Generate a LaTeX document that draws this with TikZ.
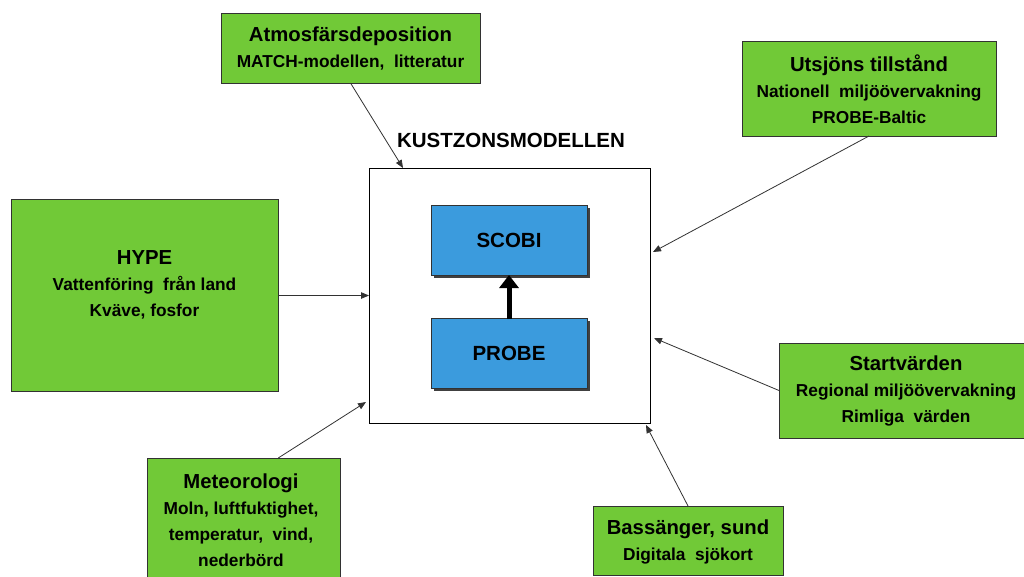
\documentclass[tikz,border=0pt]{standalone}
\usepackage{fontspec}
\setmainfont{Liberation Sans}
\usetikzlibrary{arrows.meta,calc,shadows}
\definecolor{gr}{RGB}{113,201,55}
\definecolor{bl}{RGB}{59,155,221}
\definecolor{ln}{RGB}{50,50,50}
\tikzset{
  gbox/.style={draw=ln, line width=0.9pt, fill=gr, inner sep=0pt, outer sep=0pt},
  bbox/.style={draw=ln, line width=0.9pt, fill=bl, inner sep=0pt, outer sep=0pt,
    minimum width=156pt, minimum height=70pt, font=\fontsize{20.5}{24}\selectfont\bfseries,
    drop shadow={shadow xshift=2.5pt, shadow yshift=-2.5pt, fill=black!75, opacity=1}},
  txt/.style={align=center, font=\fontsize{17.3}{26}\selectfont\bfseries, inner sep=0pt},
  conn/.style={draw=ln, line width=0.8pt, -{Triangle[length=8pt,width=6.5pt]}},
}
\newcommand\ttlfont[1]{{\fontsize{20.3}{26}\selectfont #1}}
\begin{document}
\begin{tikzpicture}[x=1pt,y=-1pt]
\clip (0,0) rectangle (1024,576);
\fill[white] (0,0) rectangle (1024,576);

% central model box
\node[draw=black, line width=0.9pt, fill=white, inner sep=0pt, outer sep=0pt,
  minimum width=281pt, minimum height=255pt] (kz) at (509.5,295.5) {};
\node[font=\fontsize{20.5}{24}\selectfont\bfseries, inner sep=0pt] (kzt) at (511,140) {KUSTZONSMODELLEN};
\node[bbox] (scobi) at (509,240) {SCOBI};
\node[bbox] (probe) at (509,353.5) {PROBE};
\draw[line width=5pt, -{Triangle[length=13pt,width=19pt]}] (probe.north) -- (scobi.south);

% green boxes
\node[gbox, minimum width=259pt, minimum height=70pt] (atm) at (350.5,48) {};
\node[txt] (atmt) at (350.5,48) {\ttlfont{Atmosfärsdeposition}\\MATCH-modellen,\ \ litteratur};

\node[gbox, minimum width=254pt, minimum height=95pt] (utsj) at (869,88.5) {};
\node[txt] (utsjt) at (869,89) {\ttlfont{Utsjöns tillstånd}\\Nationell\ \ miljöövervakning\\PROBE-Baltic};

\node[gbox, minimum width=267pt, minimum height=192pt] (hype) at (144.5,295.5) {};
\node[txt] (hypet) at (144.5,284.5) {\ttlfont{HYPE}\\Vattenföring\ \ från land\\Kväve, fosfor};

\node[gbox, minimum width=254pt, minimum height=95pt] (start) at (906,390.5) {};
\node[txt] (startt) at (906,391) {\ttlfont{Startvärden}\\Regional miljöövervakning\\Rimliga\ \ värden};

\node[gbox, minimum width=193pt, minimum height=124pt] (met) at (243.5,520) {};
\node[txt] (mett) at (241,520) {\ttlfont{Meteorologi}\\Moln, luftfuktighet,\\temperatur,\ \ vind,\\nederbörd};

\node[gbox, minimum width=190pt, minimum height=69pt] (bas) at (688,540.5) {};
\node[txt] (bast) at (688,542) {\ttlfont{Bassänger, sund}\\Digitala\ \ sjökort};

% connectors
\draw[conn] (atm.south) -- ($(kz.north west)+(34,0)$);
\draw[conn] (utsj.south) -- ($(kz.north east)+(3,84)$);
\draw[conn] (hype.east) -- (kz.west);
\draw[conn] (start.west) -- ($(kz.north east)+(4,170)$);
\draw[conn] ($(met.north west)!0.68!(met.north east)$) -- ($(kz.south west)+(-3,-21)$);
\draw[conn] (bas.north) -- ($(kz.south east)+(-4,2)$);
\end{tikzpicture}
\end{document}
